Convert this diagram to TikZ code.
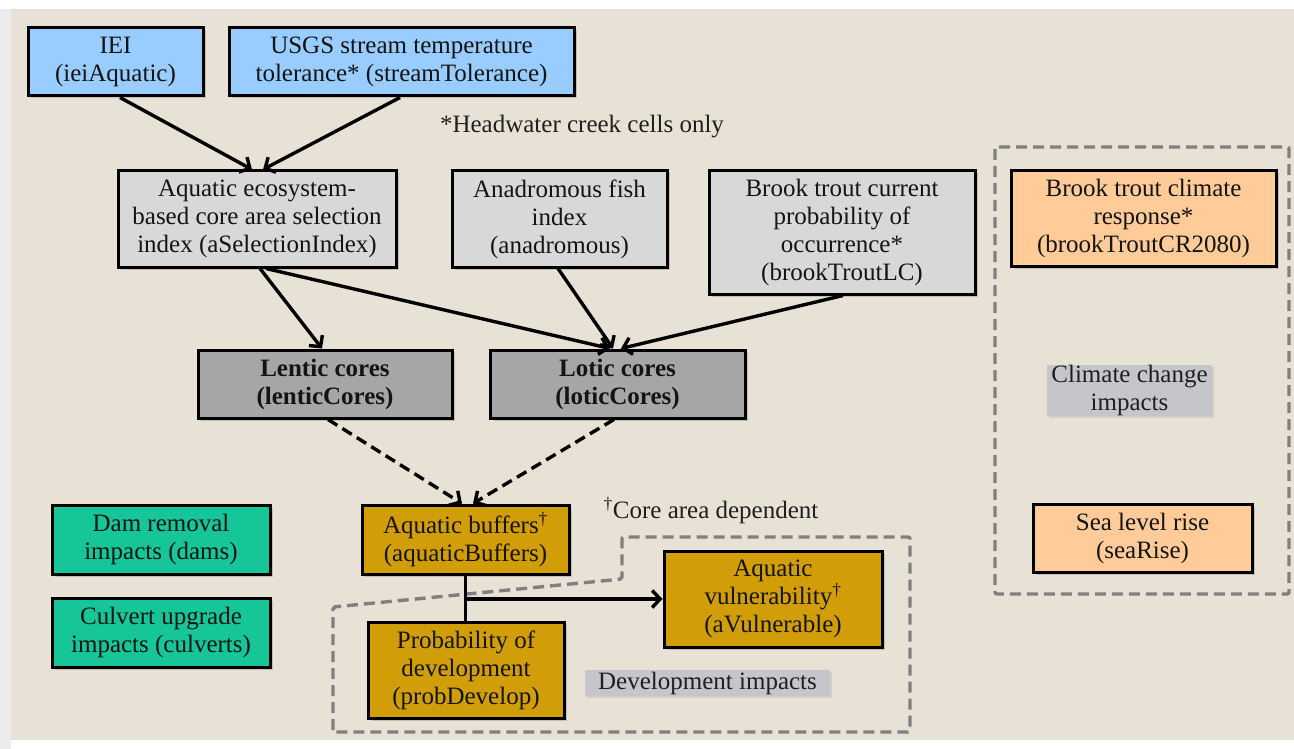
\documentclass[tikz,border=0pt]{standalone}
\usepackage{fontspec}
\setmainfont{Liberation Serif}
\usetikzlibrary{arrows.meta,shadows,calc}
\definecolor{bgbeige}{RGB}{232,225,213}
\definecolor{leftstrip}{RGB}{236,236,236}
\definecolor{cblue}{RGB}{153,204,255}
\definecolor{clgray}{RGB}{216,216,216}
\definecolor{cdgray}{RGB}{166,166,166}
\definecolor{cpeach}{RGB}{255,204,153}
\definecolor{cteal}{RGB}{22,198,152}
\definecolor{cgold}{RGB}{209,157,8}
\definecolor{cdash}{RGB}{128,128,128}
\definecolor{clabel}{RGB}{196,198,204}
\begin{document}
\begin{tikzpicture}[x=1pt,y=-1pt,
  box/.style={draw=black, line width=3pt, align=center, inner sep=0pt,
    font=\fontsize{25}{28}\selectfont, text=black!92,
    drop shadow={opacity=0.35, shadow xshift=2.5pt, shadow yshift=-2.5pt}},
  sz/.style 2 args={minimum width=#1pt, minimum height=#2pt},
  lbl/.style={fill=clabel, draw=none, align=center, inner sep=0pt,
    font=\fontsize{25}{28}\selectfont, text=black!88,
    drop shadow={opacity=0.2, shadow xshift=2pt, shadow yshift=-2pt}},
  note/.style={align=center, inner sep=0pt, font=\fontsize{25}{28}\selectfont, text=black!88},
  conn/.style={line width=3.4pt, black},
  arr/.style={conn, -{Straight Barb[length=8pt,width=17pt]}},
  darr/.style={arr, dash pattern=on 11pt off 6pt},
  dashbox/.style={draw=cdash, line width=3.4pt, dash pattern=on 11pt off 6pt, rounded corners=2pt}
]
\useasboundingbox (0,0) rectangle (1294,749);
\fill[white] (0,0) rectangle (1294,749);
\fill[leftstrip] (0,9) rectangle (11,749);
\fill[bgbeige] (11,9) rectangle (1294,740);

% dashed group outlines
\draw[dashbox] (995,147) rectangle (1289,594);
\draw[dashbox] (333,732) -- (333,607) -- (622,579) -- (622,537) -- (910,537) -- (910,732) -- cycle;

% labels
\node[lbl, sz={165}{51}] (climlbl) at (1129.5,390.5) {Climate change\\impacts};
\node[lbl, sz={245}{26}] (devlbl) at (707.5,683) {Development impacts};
\node[note] (hw) at (582,127) {*Headwater creek cells only};
\node[note] (cad) at (711,511) {\textsuperscript{†}Core area dependent};

% boxes
\node[box, fill=cblue, sz={175}{68}] (iei) at (115.5,62) {IEI\\(ieiAquatic)};
\node[box, fill=cblue, sz={345}{68}] (usgs) at (401.5,62) {USGS stream temperature\\tolerance* (streamTolerance)};
\node[box, fill=clgray, sz={278}{96}] (asel) at (257,219) {Aquatic ecosystem-\\based core area selection\\index (aSelectionIndex)};
\node[box, fill=clgray, sz={215}{96}] (anad) at (559.5,219) {Anadromous fish\\index\\(anadromous)};
\node[box, fill=clgray, sz={266}{123}] (btlc) at (842,232.5) {Brook trout current\\probability of\\occurrence*\\(brookTroutLC)};
\node[box, fill=cpeach, sz={265}{95}] (btcr) at (1143.5,218.5) {Brook trout climate\\response*\\(brookTroutCR2080)};
\node[box, fill=cdgray, sz={254}{68}, font=\fontsize{25}{28}\selectfont\bfseries] (lentic) at (325,384) {Lentic cores\\(lenticCores)};
\node[box, fill=cdgray, sz={255}{68}, font=\fontsize{25}{28}\selectfont\bfseries] (lotic) at (617.5,384) {Lotic cores\\(loticCores)};
\node[box, fill=cteal, sz={218}{69}] (dams) at (161,539.5) {Dam removal\\impacts (dams)};
\node[box, fill=cteal, sz={218}{69}] (culv) at (161,632.5) {Culvert upgrade\\impacts (culverts)};
\node[box, fill=cgold, sz={207}{69}] (buf) at (465.5,539.5) {Aquatic buffers\textsuperscript{†}\\(aquaticBuffers)};
\node[box, fill=cgold, sz={196}{96}] (pdev) at (466,670) {Probability of\\development\\(probDevelop)};
\node[box, fill=cgold, sz={218}{96}] (avul) at (773,599) {Aquatic\\vulnerability\textsuperscript{†}\\(aVulnerable)};
\node[box, fill=cpeach, sz={219}{68}] (sea) at (1142.5,538) {Sea level rise\\(seaRise)};

% connectors
\draw[arr] ([xshift=4.5pt]iei.south) -- ([xshift=-5pt]asel.north);
\draw[arr] ([xshift=-1.5pt]usgs.south) -- ([xshift=6pt]asel.north);
\draw[arr] ([xshift=3pt]asel.south) -- ([xshift=-3pt]lentic.north);
\draw[arr] ([xshift=9pt]asel.south) -- ([xshift=-7.5pt]lotic.north);
\draw[arr] ([xshift=-1.5pt]anad.south) -- ([xshift=-4.5pt]lotic.north);
\draw[arr] ([xshift=1pt]btlc.south) -- ([xshift=3.5pt]lotic.north);
\draw[darr] ([xshift=3pt]lentic.south) -- ([xshift=-3.5pt]buf.north);
\draw[darr] ([xshift=-3.5pt]lotic.south) -- ([xshift=7.5pt]buf.north);
\coordinate (jn) at (buf.south |- avul.west);
\draw[conn] (buf.south) -- (buf.south |- pdev.north);
\draw[arr] (jn) -- (avul.west);
\end{tikzpicture}
\end{document}
